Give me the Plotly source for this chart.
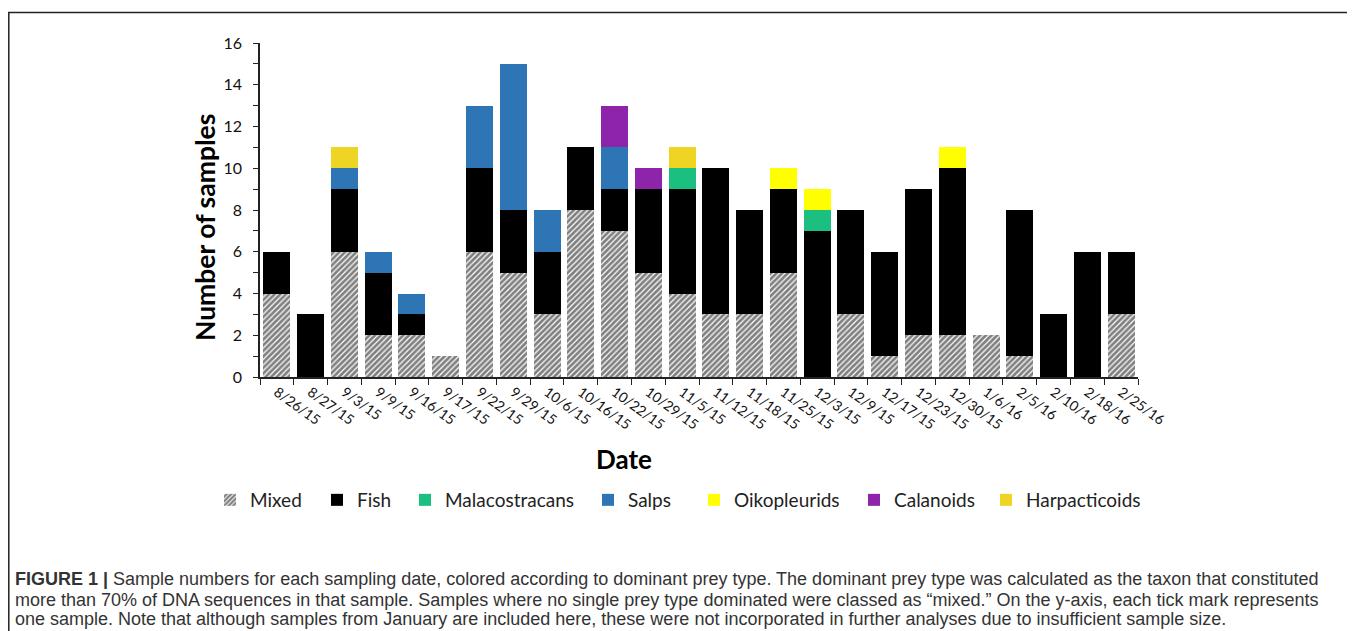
import plotly.graph_objects as go

dates = ["8/26/15", "8/27/15", "9/3/15", "9/9/15", "9/16/15", "9/17/15", "9/22/15",
         "9/29/15", "10/6/15", "10/16/15", "10/22/15", "10/29/15", "11/5/15",
         "11/12/15", "11/18/15", "11/25/15", "12/3/15", "12/9/15", "12/17/15",
         "12/23/15", "12/30/15", "1/6/16", "2/5/16", "2/10/16", "2/18/16", "2/25/16"]

mixed =         [4, 0, 6, 2, 2, 1, 6, 5, 3, 8, 7, 5, 4, 3, 3, 5, 0, 3, 1, 2, 2, 2, 1, 0, 0, 3]
fish =          [2, 3, 3, 3, 1, 0, 4, 3, 3, 3, 2, 4, 5, 7, 5, 4, 7, 5, 5, 7, 8, 0, 7, 3, 6, 3]
malacostracans = [0, 0, 0, 0, 0, 0, 0, 0, 0, 0, 0, 0, 1, 0, 0, 0, 1, 0, 0, 0, 0, 0, 0, 0, 0, 0]
salps =         [0, 0, 1, 1, 1, 0, 3, 7, 2, 0, 2, 0, 0, 0, 0, 0, 0, 0, 0, 0, 0, 0, 0, 0, 0, 0]
oikopleurids =  [0, 0, 0, 0, 0, 0, 0, 0, 0, 0, 0, 0, 0, 0, 0, 1, 1, 0, 0, 0, 1, 0, 0, 0, 0, 0]
calanoids =     [0, 0, 0, 0, 0, 0, 0, 0, 0, 0, 2, 1, 0, 0, 0, 0, 0, 0, 0, 0, 0, 0, 0, 0, 0, 0]
harpacticoids = [0, 0, 1, 0, 0, 0, 0, 0, 0, 0, 0, 0, 1, 0, 0, 0, 0, 0, 0, 0, 0, 0, 0, 0, 0, 0]

series = [
    ("Mixed", mixed, "#ffffff"),
    ("Fish", fish, "#000000"),
    ("Malacostracans", malacostracans, "#1bbf80"),
    ("Salps", salps, "#2e75b6"),
    ("Oikopleurids", oikopleurids, "#ffff00"),
    ("Calanoids", calanoids, "#8e24aa"),
    ("Harpacticoids", harpacticoids, "#efd523"),
]

caption_lines = [
    "<b>FIGURE 1 |</b> Sample numbers for each sampling date, colored according to dominant prey type. "
    "The dominant prey type was calculated as the taxon that constituted",
    "more than 70% of DNA sequences in that sample. Samples where no single prey type dominated "
    "were classed as \u201cmixed.\u201d On the y-axis, each tick mark represents",
    "one sample. Note that although samples from January are included here, these were not "
    "incorporated in further analyses due to insufficient sample size.",
]

# The page places the figure 8px from the top-left corner, so the figure covers
# reference pixels 8..1355 x 8..631; geometry below is in reference pixels.
OFF = 8
W, H = 1355 - OFF, 631 - OFF
L, R, T, B = 260, 1138, 43, 377
def px(x):
    return (x - L) / (R - L)
def py(y):
    return (B - y) / (B - T)

legend_text_x = [247, 354, 442, 625, 731, 891, 1023]
font = "Lato"

fig = go.Figure()
for i, (name, vals, color) in enumerate(series):
    lname = "legend" if i == 0 else f"legend{i+1}"
    kw = dict(x=dates, y=vals, name=name, legend=lname, hoverinfo="skip")
    if name == "Mixed":
        kw["marker"] = dict(color="#ffffff", line_width=0,
                            pattern=dict(shape="/", fgcolor="#000000", bgcolor="#ffffff",
                                         size=4, solidity=0.7))
    else:
        kw["marker"] = dict(color=color, line_width=0)
    fig.add_trace(go.Bar(**kw))

layout_legends = {}
for i, lx in enumerate(legend_text_x):
    lname = "legend" if i == 0 else f"legend{i+1}"
    layout_legends[lname] = dict(x=px(lx - 37), y=py(500), xanchor="left", yanchor="middle",
                                 orientation="h", bgcolor="rgba(0,0,0,0)",
                                 font=dict(family=font, size=19, color="#222"),
                                 itemclick=False, itemdoubleclick=False)

fig.update_layout(
    barmode="stack",
    bargap=0.2,
    width=W, height=H,
    margin=dict(l=L - OFF, r=1355 - R, t=T - OFF, b=631 - B, autoexpand=False),
    plot_bgcolor="white",
    paper_bgcolor="white",
    font=dict(family=font, size=15, color="#111"),
    showlegend=True,
    **layout_legends,
)

fig.update_xaxes(
    type="category",
    showline=True, linecolor="#222", linewidth=1.5,
    ticks="outside", tickson="boundaries", ticklen=6, tickwidth=1.2, tickcolor="#222",
    tickangle=36, tickfont=dict(family=font, size=14, color="#111"),
    showgrid=False, zeroline=False,
)
fig.update_yaxes(
    range=[0, 16], dtick=2, tick0=0,
    showline=True, linecolor="#222", linewidth=1.5,
    ticks="outside", ticklen=5, tickwidth=1.2, tickcolor="#222",
    ticklabelstandoff=8,
    minor=dict(dtick=1, ticks="outside", ticklen=5, tickwidth=1.2, tickcolor="#222", showgrid=False),
    tickfont=dict(family=font, size=16, color="#111"),
    showgrid=False, zeroline=False,
)

# outer frame
fig.add_shape(type="rect", xref="paper", yref="paper",
              x0=px(8.8), x1=px(1370), y0=py(680), y1=py(12.5),
              line=dict(color="#222", width=1.5), fillcolor="rgba(0,0,0,0)", layer="below")

fig.add_annotation(text="<b>Number of samples</b>", xref="paper", yref="paper",
                   x=px(205), y=py(228), xanchor="center", yanchor="middle",
                   textangle=-90, showarrow=False,
                   font=dict(family=font, size=26.5, color="#000"))
fig.add_annotation(text="<b>Date</b>", xref="paper", yref="paper",
                   x=px(624), y=py(459), xanchor="center", yanchor="middle", showarrow=False,
                   font=dict(family=font, size=26, color="#000"))

for k, (line, yc) in enumerate(zip(caption_lines, [579, 599.5, 619])):
    fig.add_annotation(text=line, xref="paper", yref="paper",
                       x=px(13), y=py(yc), xanchor="left", yanchor="middle", align="left",
                       showarrow=False,
                       font=dict(family="Liberation Sans", size=18, color="#333"))

fig.write_html("out.html")
